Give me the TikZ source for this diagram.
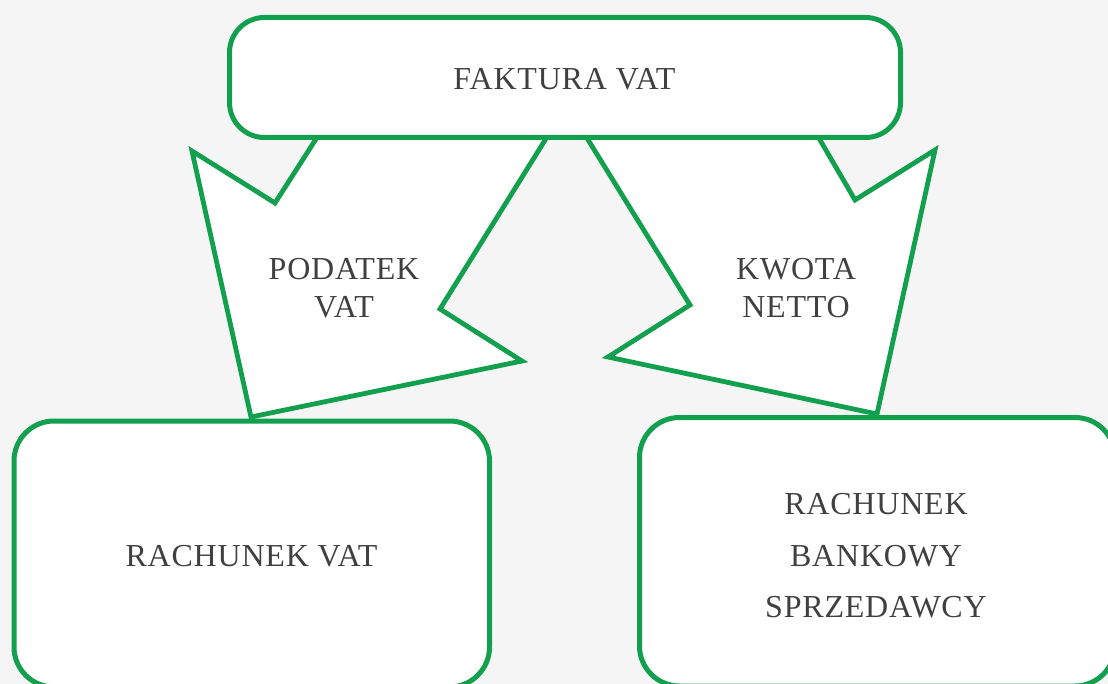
\documentclass[tikz,border=0pt]{standalone}
\usepackage{fontspec}
\setmainfont[LetterSpace=2.5]{Liberation Serif}
\definecolor{leafgreen}{RGB}{18,160,78}
\definecolor{inkgray}{RGB}{64,64,64}
\definecolor{paper}{RGB}{245,245,245}
\begin{document}
\begin{tikzpicture}[x=1pt,y=-1pt,
  panel/.style={draw=leafgreen, line width=5pt, fill=white, rectangle, inner sep=0pt},
  flow/.style={draw=leafgreen, line width=4.8pt, fill=white, line join=miter},
  caption/.style={text=inkgray, inner sep=0pt, font=\fontsize{32}{38}\selectfont},
  multicaption/.style={caption, align=center}]
  % canvas
  \fill[paper] (0,0) rectangle (1108,684);
  \useasboundingbox (0,0) rectangle (1108,684);
  \clip (0,0) rectangle (1108,684);

  % left flow arrow (tax part)
  \draw[flow] (341,100) -- (275,203) -- (192,151) -- (251,417)
              -- (522,361) -- (440,309) -- (570,100) -- cycle;
  % right flow arrow (net amount)
  \draw[flow] (563.5,100) -- (690,305) -- (608,357) -- (877,414)
              -- (935,150) -- (855,200) -- (796.7,100) -- cycle;

  % boxes
  \node[panel, rounded corners=35pt, minimum width=671pt, minimum height=120pt]
       (faktura) at (565,77.5) {};
  \node[panel, rounded corners=40pt, minimum width=475.5pt, minimum height=266pt]
       (vatacc) at (251.75,554) {};
  \node[panel, rounded corners=40pt, minimum width=475.5pt, minimum height=268.5pt]
       (bankacc) at (877.25,551.75) {};

  % labels
  \node[caption, anchor=base] (faktura-text) at (564.5,90) {FAKTURA VAT};
  \node[caption, anchor=base] (vatacc-text) at (251.5,566) {RACHUNEK VAT};
  \node[multicaption, anchor=center] (bankacc-text) at (876,556)
       {RACHUNEK\\[13.5pt]BANKOWY\\[13.5pt]SPRZEDAWCY};
  \node[multicaption, anchor=center] (tax-text) at (344,288) {PODATEK\\VAT};
  \node[multicaption, anchor=center] (net-text) at (796,288) {KWOTA\\NETTO};
\end{tikzpicture}
\end{document}
